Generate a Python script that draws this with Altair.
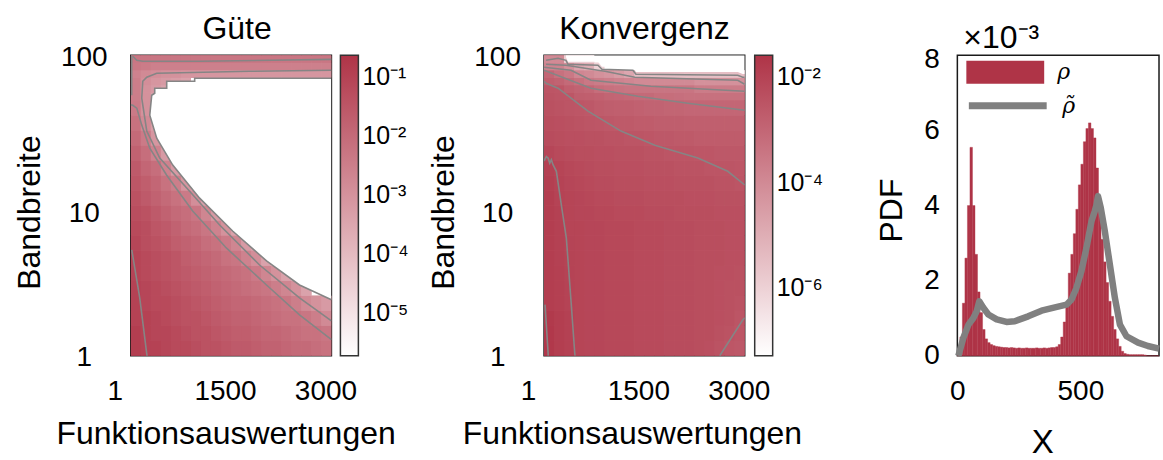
import altair as alt
import pandas as pd

FONT = "Liberation Sans"
SERIF = "DejaVu Serif"
RED = "#AF3447"
CONTOUR_GRAY = "#858585"
KDE_GRAY = "#808080"

# ---------------------------------------------------------------------------
# Parameter grid of the two maps: function evaluations (x) and bandwidth (y)
# ---------------------------------------------------------------------------
EVAL_EDGES = [0, 150, 300, 450, 600, 750, 900, 1050, 1200, 1350, 1500,
              1650, 1800, 1950, 2100, 2250, 2400, 2550, 2700, 2850, 3000]
BW_LOG_EDGES = [0.0, 0.1, 0.2, 0.3, 0.4, 0.5, 0.6, 0.7, 0.8, 0.9, 1.0, 1.1,
                1.2, 1.3, 1.4, 1.5, 1.6, 1.7, 1.75, 1.8, 1.85, 1.9, 1.95, 2.0]

# log10 of the quality measure, one row per bandwidth band (bottom to top);
# cells after the end of a row lie below the colour range (white)
GUETE_LOG = [
    [-0.9, -1.0, -1.0, -1.1, -1.2, -1.2, -1.3, -1.4, -1.4, -1.5, -1.6, -1.6, -1.7, -1.8, -1.8, -1.9, -2.0, -2.0, -2.1, -2.2],
    [-0.9, -1.0, -1.1, -1.1, -1.2, -1.3, -1.4, -1.4, -1.5, -1.6, -1.7, -1.7, -1.8, -1.9, -1.9, -2.0, -2.1, -2.2, -2.2, -2.3],
    [-1.0, -1.0, -1.1, -1.2, -1.3, -1.4, -1.4, -1.5, -1.6, -1.7, -1.8, -1.8, -1.9, -2.0, -2.1, -2.2, -2.2, -2.3, -2.5, -2.8],
    [-1.0, -1.1, -1.2, -1.2, -1.3, -1.4, -1.5, -1.6, -1.7, -1.8, -1.9, -1.9, -2.0, -2.1, -2.2, -2.3, -2.5, -2.8, -3.0, -3.2],
    [-1.0, -1.1, -1.2, -1.3, -1.4, -1.5, -1.6, -1.7, -1.8, -1.9, -2.0, -2.1, -2.2, -2.3, -2.5, -2.7, -3.0, -3.4],
    [-1.05, -1.2, -1.3, -1.4, -1.5, -1.6, -1.7, -1.8, -1.9, -2.0, -2.1, -2.2, -2.4, -2.7, -3.0, -3.4],
    [-1.05, -1.2, -1.3, -1.4, -1.5, -1.7, -1.8, -1.9, -2.0, -2.2, -2.3, -2.6, -2.9, -3.4],
    [-1.1, -1.3, -1.4, -1.5, -1.7, -1.8, -1.9, -2.1, -2.2, -2.4, -2.7, -3.2, -3.4],
    [-1.2, -1.3, -1.5, -1.6, -1.8, -2.0, -2.1, -2.3, -2.6, -3.0, -3.4],
    [-1.3, -1.4, -1.6, -1.8, -2.0, -2.1, -2.3, -2.7, -3.2, -3.4],
    [-1.4, -1.6, -1.8, -2.0, -2.2, -2.4, -2.9, -3.4],
    [-1.5, -1.7, -1.9, -2.2, -2.5, -3.1, -3.4],
    [-1.6, -1.9, -2.1, -2.6, -3.2, -3.4],
    [-1.8, -2.1, -2.6, -3.2, -3.4],
    [-2.0, -2.4, -3.1, -3.4],
    [-2.2, -2.8, -3.3],
    [-2.4, -3.0, -3.4],
    [-2.5, -3.0, -3.4],
    [-2.5, -3.0, -3.2, -3.4],
    [-2.5, -2.9, -3.1, -3.2, -3.3, -3.4],
    [-2.6, -2.8, -2.9, -3.0, -3.0, -3.1, -3.1, -3.1, -3.1, -3.1, -3.1, -3.1, -3.1, -3.1, -3.1, -3.1, -3.1, -3.1, -3.1, -3.1],
    [-2.35, -2.45, -2.55, -2.55, -2.55, -2.55, -2.55, -2.55, -2.55, -2.55, -2.55, -2.55, -2.55, -2.55, -2.55, -2.55, -2.55, -2.55, -2.55, -2.55],
    [-2.3, -2.3, -2.3, -2.3, -2.3, -2.3, -2.3, -2.3, -2.3, -2.3, -2.3, -2.3, -2.3, -2.3, -2.3, -2.3, -2.3, -2.3, -2.3, -2.3],
]

# log10 of the convergence measure, same layout
KONV_LOG = [
    [-1.7, -1.85, -1.95, -2.05, -2.1, -2.1, -2.15, -2.15, -2.15, -2.2, -2.2, -2.2, -2.25, -2.25, -2.25, -2.3, -2.35, -2.45, -2.55, -2.6],
    [-1.7, -1.85, -1.95, -2.05, -2.1, -2.1, -2.15, -2.15, -2.15, -2.2, -2.2, -2.2, -2.25, -2.25, -2.25, -2.3, -2.3, -2.4, -2.45, -2.55],
    [-1.75, -1.85, -1.95, -2.05, -2.1, -2.1, -2.15, -2.15, -2.15, -2.2, -2.2, -2.2, -2.25, -2.25, -2.25, -2.3, -2.3, -2.35, -2.4, -2.5],
    [-1.85, -1.92, -2.0, -2.05, -2.1, -2.1, -2.15, -2.15, -2.15, -2.2, -2.2, -2.2, -2.25, -2.25, -2.25, -2.3, -2.3, -2.35, -2.4, -2.45],
    [-1.85, -1.92, -2.0, -2.05, -2.1, -2.1, -2.15, -2.15, -2.15, -2.2, -2.2, -2.2, -2.25, -2.25, -2.25, -2.3, -2.3, -2.35, -2.4, -2.4],
    [-1.85, -1.92, -2.0, -2.05, -2.1, -2.1, -2.15, -2.15, -2.15, -2.2, -2.2, -2.2, -2.25, -2.25, -2.25, -2.3, -2.3, -2.35, -2.35, -2.4],
    [-1.85, -1.95, -2.02, -2.05, -2.1, -2.1, -2.15, -2.15, -2.15, -2.2, -2.2, -2.2, -2.25, -2.25, -2.25, -2.3, -2.3, -2.3, -2.35, -2.35],
    [-1.85, -1.95, -2.03, -2.05, -2.1, -2.1, -2.15, -2.15, -2.15, -2.2, -2.2, -2.2, -2.25, -2.25, -2.25, -2.3, -2.3, -2.3, -2.35, -2.35],
    [-1.85, -1.95, -2.05, -2.05, -2.1, -2.1, -2.15, -2.15, -2.15, -2.2, -2.2, -2.2, -2.25, -2.25, -2.25, -2.3, -2.3, -2.3, -2.35, -2.35],
    [-1.85, -1.95, -2.05, -2.1, -2.1, -2.15, -2.15, -2.2, -2.2, -2.2, -2.25, -2.25, -2.25, -2.3, -2.3, -2.3, -2.3, -2.35, -2.35, -2.35],
    [-1.85, -2.0, -2.05, -2.1, -2.15, -2.2, -2.2, -2.25, -2.25, -2.25, -2.3, -2.3, -2.3, -2.3, -2.35, -2.35, -2.35, -2.4, -2.4, -2.4],
    [-1.9, -2.0, -2.1, -2.15, -2.2, -2.25, -2.25, -2.3, -2.3, -2.3, -2.35, -2.35, -2.35, -2.4, -2.4, -2.4, -2.4, -2.45, -2.45, -2.5],
    [-1.95, -2.05, -2.15, -2.2, -2.25, -2.3, -2.3, -2.35, -2.35, -2.35, -2.4, -2.4, -2.4, -2.45, -2.45, -2.45, -2.5, -2.5, -2.5, -2.55],
    [-2.1, -2.2, -2.25, -2.3, -2.3, -2.35, -2.35, -2.4, -2.4, -2.4, -2.45, -2.45, -2.5, -2.5, -2.5, -2.55, -2.55, -2.6, -2.6, -2.6],
    [-2.25, -2.3, -2.35, -2.35, -2.4, -2.4, -2.45, -2.45, -2.5, -2.5, -2.55, -2.6, -2.6, -2.65, -2.65, -2.7, -2.7, -2.7, -2.7, -2.7],
    [-2.3, -2.35, -2.4, -2.45, -2.5, -2.55, -2.6, -2.65, -2.65, -2.7, -2.7, -2.75, -2.75, -2.75, -2.8, -2.8, -2.8, -2.8, -2.8, -2.8],
    [-2.4, -2.45, -2.5, -2.55, -2.6, -2.7, -2.75, -2.8, -2.8, -2.85, -2.9, -2.9, -2.95, -2.95, -3.0, -3.0, -3.0, -3.0, -3.0, -3.0],
    [-2.45, -2.5, -2.55, -2.75, -2.8, -2.85, -2.95, -3.0, -3.05, -3.1, -3.1, -3.2, -3.2, -3.25, -3.3, -3.3, -3.3, -3.3, -3.3, -3.3],
    [-2.5, -2.55, -2.8, -2.9, -3.0, -3.2, -3.3, -3.35, -3.4, -3.4, -3.4, -3.4, -3.4, -3.4, -3.4, -3.6, -3.6, -3.6, -3.6, -3.6],
    [-2.8, -2.9, -3.1, -3.3, -3.5, -3.6, -3.7, -3.8, -3.9, -4.0, -4.0, -4.0, -4.0, -4.0, -4.0, -4.2, -4.2, -4.2, -4.2, -4.2],
    [-3.0, -3.3, -3.5, -3.9, -4.0, -4.2, -4.3, -4.5, -4.8, -5.5, -5.5, -5.5, -5.5, -5.5, -5.5, -5.5, -5.5, -5.5, -5.5, -5.5],
    [-3.8, -3.8, -4.2, -4.8, -5.0, -6.0],
    [-4.0, -4.0, -6.0, -6.0, -6.0],
]

# colour ranges (log10) of the two colour bars
GUETE_RANGE = [-5.73, -0.64]
KONV_RANGE = [-7.29, -1.58]
GUETE_TICKS = [-1, -2, -3, -4, -5]
KONV_TICKS = [-2, -4, -6]

# region of the quality map that falls below the colour range (drawn white)
GUETE_VOID_X = [285, 314, 359, 359, 389, 538, 538, 628, 956, 956, 1030, 1523, 2030, 2523, 3000]
GUETE_VOID_LO = [39.9, 36.4, 31.3, 31.3, 28.1, 21.5, 21.5, 18.6, 12.3, 12.3, 11.2, 6.77, 4.28, 2.96, 2.36]
GUETE_VOID_HI = [39.9, 54.2, 55.9, 60.4, 60.4, 60.4, 67.2, 67.2, 67.2, 70.3, 70.3, 70.3, 70.3, 70.3, 70.3]

# region of the convergence map below the colour range (top edge)
KONV_VOID_X = [329, 359, 807, 866, 1329, 1374, 2896, 2970, 3000]
KONV_VOID_LO = [97.0, 90.5, 90.5, 84.0, 84.0, 77.5, 77.5, 75.0, 75.0]
KONV_VOID_HI = [100, 100, 100, 100, 100, 100, 100, 100, 100]

# contour lines of the quality map (function evaluations, bandwidth)
GUETE_CONTOURS = [
    ([1, 31, 91, 165, 285, 538, 926, 1433, 2030, 2523, 3000],
     [46.8, 46.5, 44.5, 34.3, 24.1, 15.9, 9.2, 5.2, 2.96, 1.87, 1.28]),
    ([3000, 1777, 389, 240, 180, 165, 240, 434, 837, 1329, 1926, 2523, 3000],
     [79.5, 78.3, 75.9, 71.5, 67.2, 51.8, 31.3, 20.7, 13.1, 7.42, 4.02, 2.43, 1.71]),
    ([3000, 956, 956, 538, 538, 359, 359, 314, 285, 389, 628, 1030, 1523, 2030, 2523, 3000],
     [70.3, 70.3, 67.2, 67.2, 60.4, 60.4, 55.9, 54.2, 39.9, 28.1, 18.6, 11.2, 6.77, 4.28, 2.96, 2.36]),
    ([31, 91, 180, 1030, 3000],
     [98.5, 92.6, 91.2, 91.2, 94.0]),
    ([15, 15],
     [100, 54.2]),
    ([16, 135, 240, 245],
     [5.06, 2.43, 1.03, 1.0]),
]

# contour lines of the convergence map
KONV_CONTOURS = [
    ([1, 35, 61, 86, 110, 135, 185, 259, 334, 408, 459, 464],
     [19.8, 21.2, 20.7, 19.1, 20.2, 18.7, 16.9, 10.1, 6.08, 2.19, 1.05, 1.0]),
    ([16, 61, 63],
     [2.19, 1.05, 1.0]),
    ([2627, 2970, 3000],
     [1.0, 1.73, 1.79]),
    ([1, 31, 210, 657, 1150, 1657, 2299, 2746, 3000],
     [67.2, 65.2, 60.4, 42.5, 31.3, 25.2, 20.7, 16.9, 13.7]),
    ([1, 314, 702, 1403, 2149, 3000],
     [79.5, 70.3, 60.4, 53.4, 48.0, 43.1]),
    ([1, 404, 702, 1597, 3000],
     [83.2, 79.5, 68.2, 62.2, 57.6]),
    ([31, 210, 329, 359, 807, 866, 1329, 1374, 2896, 2970, 3000],
     [92.6, 95.5, 92.6, 87.1, 85.8, 80.7, 79.5, 74.8, 73.6, 71.5, 71.5]),
    ([31, 329, 807, 911, 1359, 2896, 3000],
     [87.1, 85.8, 79.5, 78.3, 71.5, 68.2, 64.1]),
]

# ---------------------------------------------------------------------------
# Density of X: histogram (rho, 10-wide bins) and estimate (rho tilde), x 1e-3
# ---------------------------------------------------------------------------
HIST_LEFT = list(range(0, 800, 10))
PDF_RHO = [
    0.1, 0.5, 1.4, 2.6, 4.0, 5.55, 4.0, 2.7, 1.7, 1.15,
    0.7, 0.45, 0.35, 0.3, 0.27, 0.25, 0.24, 0.23, 0.22, 0.22,
    0.21, 0.22, 0.21, 0.20, 0.21, 0.20, 0.20, 0.21, 0.20, 0.20,
    0.20, 0.21, 0.20, 0.20, 0.21, 0.20, 0.21, 0.22, 0.22, 0.24,
    0.3, 0.5, 0.9, 1.4, 2.2, 2.7, 3.25, 3.9, 4.55, 5.1,
    5.7, 6.05, 6.2, 6.05, 5.8, 5.0, 3.9, 3.1, 2.5, 1.95,
    1.45, 1.05, 0.7, 0.45, 0.25, 0.12, 0.06, 0.04, 0.03, 0.03,
    0.03, 0.03, 0.03, 0.03, 0.02, 0.0, 0.0, 0.0, 0.0, 0.0,
]
KDE_X = [4, 24, 44, 63, 77, 87, 103, 123, 156, 195, 228, 281, 334, 387, 433, 453,
         472, 492, 512, 532, 545, 552, 558, 569, 585, 605, 625, 645, 671, 717, 756, 800]
KDE_Y = [0.0, 0.48, 0.83, 1.0, 1.19, 1.45, 1.28, 1.1, 0.97, 0.9, 0.92, 1.05, 1.2, 1.29, 1.36, 1.5,
         1.8, 2.25, 2.87, 3.58, 3.85, 4.02, 4.25, 3.94, 3.32, 2.43, 1.54, 0.83, 0.52, 0.35, 0.26, 0.19]


def grid_frame(rows):
    recs = []
    for j, row in enumerate(rows):
        for i, v in enumerate(row):
            recs.append({
                "x0": EVAL_EDGES[i], "x1": EVAL_EDGES[i + 1],
                "y0": 10 ** BW_LOG_EDGES[j], "y1": 10 ** BW_LOG_EDGES[j + 1],
                "lg": v,
            })
    return pd.DataFrame(recs)


def contour_frame(curves):
    recs = []
    for k, (xs, ys) in enumerate(curves):
        for i, (x, y) in enumerate(zip(xs, ys)):
            recs.append({"cid": k, "i": i, "x0": x, "y0": y})
    return pd.DataFrame(recs)


def void_frame(xs, lo, hi):
    return pd.DataFrame({"x0": xs, "y0": lo, "y1": hi})


SUP = "['⁰','⁻¹','⁻²','⁻³','⁻⁴','⁻⁵','⁻⁶','⁻⁷']"


def heat_panel(rows, curves, void, title, crange, ticks, title_dx, xtitle_x, legend_x):
    cscale = alt.Scale(domain=crange, range=["#ffffff", RED], clamp=True, interpolate="rgb")
    x_scale = alt.Scale(domain=[1, 3000], nice=False, zero=False)
    y_scale = alt.Scale(type="log", domain=[1, 100], nice=False)
    x_axis = alt.Axis(
        values=[1, 1500, 3000], format="d", title="Funktionsauswertungen",
        labelPadding=22, labelFlush=False,
        labelOffset={"condition": {"test": "datum.value == 1", "value": -16}, "value": -6},
        titleX=xtitle_x, titleY=88, titleBaseline="alphabetic",
    )
    y_axis = alt.Axis(
        values=[1, 10, 100], format="d", title="Bandbreite",
        labelAlign="center", labelBaseline="middle", labelPadding=47, labelFlush=False,
        labelOffset={"condition": {"test": "datum.value == 10", "value": 8}, "value": 2},
        titleX=-91, titleY=157, titleBaseline="alphabetic", titleAngle=270,
    )
    legend = alt.Legend(
        type="gradient", orient="none", legendX=legend_x, legendY=0,
        direction="vertical", title=None,
        gradientLength=301, gradientThickness=18,
        gradientStrokeColor="#333333", gradientStrokeWidth=1.5,
        values=ticks, labelExpr="'10' + " + SUP + "[-datum.value]",
        labelFont=FONT, labelFontSize=25, labelColor="black", labelOffset=4,
        labelOverlap=False, padding=0,
    )
    # the cell layer is painted three times so that the hairline gaps between
    # neighbouring cells close up
    cells = alt.Chart(grid_frame(rows)).mark_rect(clip=True).encode(
        x=alt.X("x0:Q", scale=x_scale, axis=x_axis),
        x2="x1:Q",
        y=alt.Y("y0:Q", scale=y_scale, axis=y_axis),
        y2="y1:Q",
        color=alt.Color("lg:Q", scale=cscale, legend=legend),
    )
    blank = alt.Chart(void).mark_area(
        fill="white", opacity=1, clip=True, orient="vertical", interpolate="linear"
    ).encode(
        x=alt.X("x0:Q", title="Funktionsauswertungen"),
        y=alt.Y("y0:Q", title="Bandbreite"),
        y2="y1:Q",
    )
    lines = alt.Chart(contour_frame(curves)).mark_line(
        color=CONTOUR_GRAY, strokeWidth=1.6, clip=True
    ).encode(
        x=alt.X("x0:Q", title="Funktionsauswertungen"),
        y=alt.Y("y0:Q", title="Bandbreite"),
        detail="cid:N",
        order="i:Q",
    )
    return alt.layer(cells, cells, cells, blank, lines).properties(
        width=201, height=301,
        title=alt.TitleParams(text=title, fontSize=32, font=FONT, fontWeight="normal",
                              baseline="alphabetic", offset=-28, frame="group",
                              anchor="middle", dx=title_dx, color="black"),
    )


p1 = heat_panel(GUETE_LOG, GUETE_CONTOURS, void_frame(GUETE_VOID_X, GUETE_VOID_LO, GUETE_VOID_HI),
                "Güte", GUETE_RANGE, GUETE_TICKS, 6, 95, 210)
p2 = heat_panel(KONV_LOG, KONV_CONTOURS, void_frame(KONV_VOID_X, KONV_VOID_LO, KONV_VOID_HI),
                "Konvergenz", KONV_RANGE, KONV_TICKS, 0, 88, 211)

hist = pd.DataFrame({
    "x0": HIST_LEFT,
    "x1": [v + 10 for v in HIST_LEFT],
    "pdf": PDF_RHO,
    "base": [0.0] * len(HIST_LEFT),
    "serie": ["ρ"] * len(HIST_LEFT),
})
kde = pd.DataFrame({"x0": KDE_X, "pdf": KDE_Y, "serie": ["ρ̃"] * len(KDE_X)})

px_scale = alt.Scale(domain=[0, 800], nice=False, zero=False)
py_scale = alt.Scale(domain=[0, 8], nice=False)
px_axis = alt.Axis(values=[0, 500], format="d", title="X", labelPadding=22, labelFlush=False,
                   labelOffset={"condition": {"test": "datum.value == 500", "value": -3}, "value": 0},
                   titleX=85, titleY=97, titleBaseline="alphabetic", titleFontSize=33)
py_axis = alt.Axis(values=[0, 2, 4, 6, 8], format="d", title="PDF", labelAlign="center",
                   labelBaseline="middle", labelPadding=26, labelFlush=False,
                   labelOffset={"condition": {"test": "datum.value == 8", "value": 4}, "value": 0},
                   titleX=-56, titleY=155, titleBaseline="alphabetic", titleAngle=270)

# legend keys: a wide filled box for the histogram, a thick line for the estimate
BOX_KEY = "M-4,-1.18H4V1.18H-4Z"
LINE_KEY = "M-4,0H4"

bars = alt.Chart(hist).mark_bar(stroke=RED, strokeWidth=0.4).encode(
    x=alt.X("x0:Q", scale=px_scale, axis=px_axis),
    x2="x1:Q",
    y=alt.Y("pdf:Q", scale=py_scale, axis=py_axis),
    y2="base:Q",
    fill=alt.Fill("serie:N", scale=alt.Scale(domain=["ρ"], range=[RED]),
                  legend=alt.Legend(orient="none", legendX=37, legendY=6, title=None,
                                    symbolType=BOX_KEY, symbolSize=380,
                                    symbolStrokeWidth=0, symbolOpacity=1,
                                    labelFont=SERIF, labelFontStyle="italic", labelFontSize=22,
                                    labelColor="black", labelOffset=41, padding=0)),
)
curve = alt.Chart(kde).mark_line(strokeWidth=6.5, strokeJoin="round").encode(
    x=alt.X("x0:Q", scale=px_scale, title="X"),
    y=alt.Y("pdf:Q", scale=py_scale, title="PDF"),
    stroke=alt.Stroke("serie:N", scale=alt.Scale(domain=["ρ̃"], range=[KDE_GRAY]),
                      legend=alt.Legend(orient="none", legendX=37, legendY=37, title=None,
                                        symbolType=LINE_KEY, symbolSize=380, symbolStrokeWidth=7,
                                        labelFont=SERIF, labelFontStyle="italic", labelFontSize=22,
                                        labelColor="black", labelOffset=41, padding=0)),
)
p3 = alt.layer(bars, curve).properties(
    width=202, height=301,
    title=alt.TitleParams(text="×10⁻³", fontSize=32, font=FONT, fontWeight="normal",
                          baseline="alphabetic", offset=-35, frame="group", anchor="start",
                          dx=6, color="black"),
)

chart = (
    alt.hconcat(p1, p2, p3, spacing=213, bounds="flush")
    .resolve_scale(color="independent", fill="independent", stroke="independent",
                   x="independent", y="independent")
    .properties(padding={"left": 13, "top": 12, "right": 0, "bottom": 0})
    .configure_view(stroke="#1a1a1a", strokeWidth=1.5)
    .configure_axis(labelFont=FONT, titleFont=FONT, labelFontSize=28, titleFontSize=32,
                    labelColor="black", titleColor="black", titleFontWeight="normal",
                    grid=False, domain=False, ticks=False, tickSize=0)
)

chart.save("out.html", embed_options={"renderer": "svg", "actions": False})
